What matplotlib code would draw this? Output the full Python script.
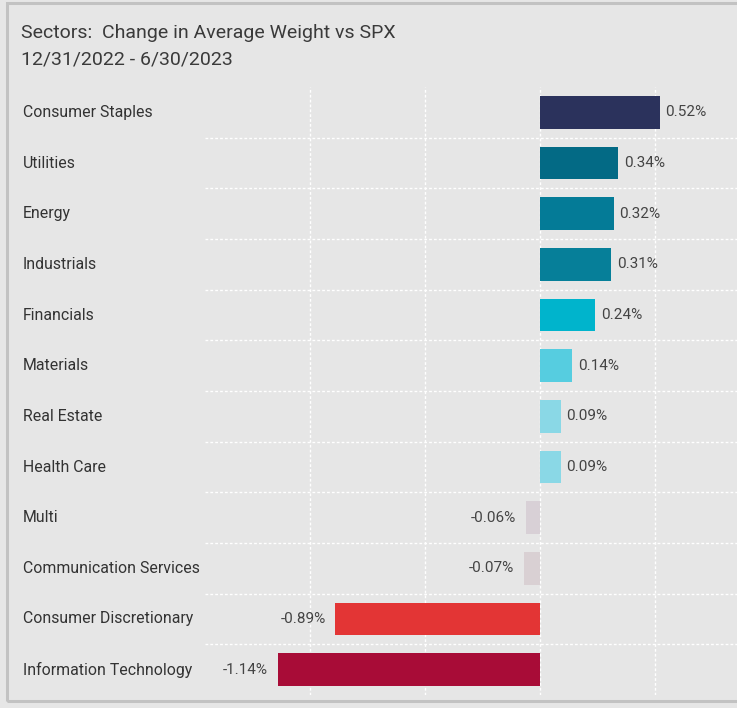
import matplotlib.pyplot as plt
import matplotlib.transforms as mtransforms
from matplotlib.patches import Rectangle

sectors = ['Consumer Staples', 'Utilities', 'Energy', 'Industrials', 'Financials',
           'Materials', 'Real Estate', 'Health Care', 'Multi',
           'Communication Services', 'Consumer Discretionary', 'Information Technology']
changes = [0.52, 0.34, 0.32, 0.31, 0.24, 0.14, 0.09, 0.09, -0.06, -0.07, -0.89, -1.14]
colors = ['#2b325c', '#036a85', '#047b97', '#067f99', '#00b4cc', '#56cde0',
          '#8ad8e6', '#8ad8e6', '#d8d0d6', '#d9d0d3', '#e33535', '#a80c37']
grid_ticks = [-1.0, -0.5, 0.0, 0.5]

plt.rcParams['font.family'] = ['Roboto', 'DejaVu Sans']
bg = '#e6e6e6'
W, H = 737, 708

fig = plt.figure(figsize=(W / 100, H / 100), dpi=100, facecolor=bg)
# outer frame
fig.patches.append(Rectangle((7 / W, 1 - 701 / H), 740 / W, (701 - 3) / H,
                             transform=fig.transFigure, fill=False,
                             edgecolor='#c2c2c2', lw=2.2))

ax = fig.add_axes([205 / W, 1 - 695 / H, 1 - 205 / W, (695 - 87) / H])
ax.set_facecolor(bg)
n = len(sectors)
y = list(range(n))
ax.barh(y, changes, height=0.65, color=colors, zorder=3)
ax.set_ylim(n - 0.5, -0.5)
ax.set_xlim(-1.457, 0.857)

for t in grid_ticks:
    ax.axvline(t, color='white', lw=1, ls=(0, (2, 1.5)), zorder=1)
for i in range(n - 1):
    ax.axhline(i + 0.5, color='white', lw=1, ls=(0, (2, 1.5)), zorder=1)

# value labels
for i, v in enumerate(changes):
    if v >= 0:
        ax.annotate(f'{v:.2f}%', (v, i), xytext=(4, 0), textcoords='offset points',
                    ha='left', va='center', fontsize=11, color='#444444', zorder=4)
    else:
        ax.annotate(f'{v:.2f}%', (v, i), xytext=(-7, 0), textcoords='offset points',
                    ha='right', va='center', fontsize=11, color='#444444', zorder=4)

for s in ax.spines.values():
    s.set_visible(False)
ax.set_xticks([])
ax.set_yticks([])

# sector labels at the left, aligned to bar rows
trans = mtransforms.blended_transform_factory(fig.transFigure, ax.transData)
for i, s in enumerate(sectors):
    ax.text(23 / W, i, s, transform=trans, fontsize=11.4, color='#333333',
            va='center', ha='left', clip_on=False)

fig.text(21 / W, 1 - 33 / H, 'Sectors:  Change in Average Weight vs SPX',
         fontsize=14, color='#3a3a3a', va='center', ha='left')
fig.text(21 / W, 1 - 60 / H, '12/31/2022 - 6/30/2023',
         fontsize=14, color='#3a3a3a', va='center', ha='left')

fig.savefig('out.png', dpi=100, facecolor=bg)
